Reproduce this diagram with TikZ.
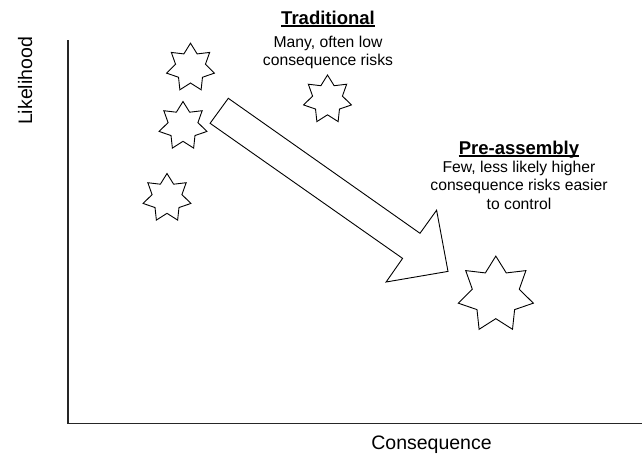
\documentclass[tikz,border=0pt]{standalone}
\usepackage{fontspec}
\setmainfont{Liberation Sans}
\usetikzlibrary{shapes.geometric}

\begin{document}
\begin{tikzpicture}[x=1pt,y=-1pt,
  riskstar/.style={star, star points=7, star point ratio=1.6, draw=black,
    line width=0.9pt, line join=miter, inner sep=0pt, minimum size=#1},
  riskstar/.default=49pt,
  axisline/.style={draw=black!85, line width=1.2pt},
  bigarrow/.style={draw=black, line width=0.9pt, line join=miter, fill=white},
  heading/.style={font=\fontsize{18.5}{22}\selectfont\bfseries, inner sep=0pt},
  uline/.style={draw=black, line width=1.4pt},
  desc/.style={font=\fontsize{15.7}{18.6}\selectfont, align=center, inner sep=0pt},
  axislabel/.style={font=\fontsize{19.5}{23}\selectfont, inner sep=0pt}]

% page frame
\useasboundingbox (0,0) rectangle (642,455);

% axes
\coordinate (ytop) at (68,40);
\coordinate (origin) at (68,423.5);
\coordinate (xend) at (642,423.5);
\draw[axisline] (ytop) -- (origin) -- (xend);

\node[axislabel, rotate=90, anchor=base] (ylab) at (32.2,81) {Likelihood};
\node[axislabel, anchor=base] (xlab) at (431.5,449) {Consequence};

% many small risks
\node[riskstar] (s1) at (190.5,67.7) {};
\node[riskstar] (s2) at (183,126) {};
\node[riskstar] (s3) at (167,198) {};
\node[riskstar] (s4) at (327.5,99.5) {};

% one larger risk
\node[riskstar=77pt] (big) at (495.8,294.6) {};

% the shift from traditional to pre-assembly
\draw[bigarrow] (228.3,98.3) -- (420,233.3) -- (436.6,210.2) -- (448,271.4)
  -- (386.1,282) -- (402.6,258.4) -- (210.1,123.3) -- cycle;

% captions
\node[heading, anchor=base] (tradT) at (328,24) {Traditional};
\draw[uline] ([yshift=-2pt]tradT.base west) -- ([yshift=-2pt]tradT.base east);
\node[desc, anchor=north] (tradD) at (328,35.5) {Many, often low\\consequence risks};

\node[heading, anchor=base] (preT) at (519,154) {Pre-assembly};
\draw[uline] ([yshift=-2pt]preT.base west) -- ([yshift=-2pt]preT.base east);
\node[desc, anchor=north] (preD) at (519,160.5) {Few, less likely higher\\consequence risks easier\\to control};
\end{tikzpicture}
\end{document}
